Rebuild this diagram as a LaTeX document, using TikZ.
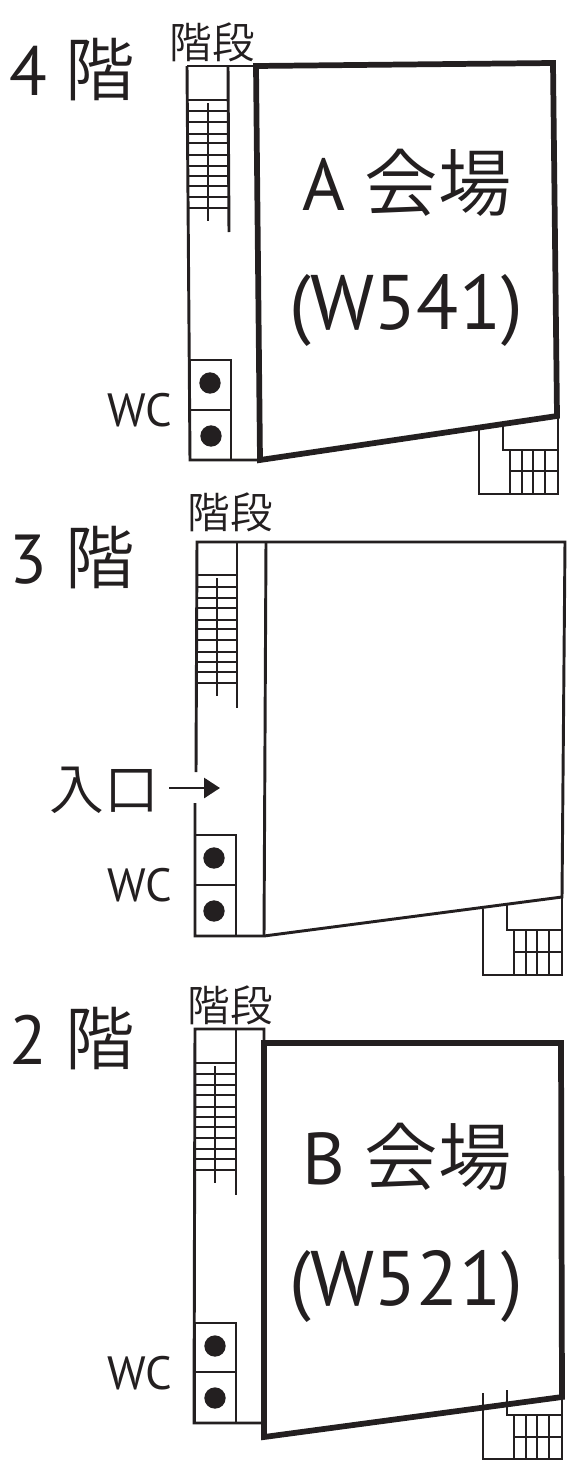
\documentclass[tikz,border=0pt]{standalone}
\usepackage{fontspec}
\usetikzlibrary{arrows.meta}
\setmainfont{PT Sans}
\newfontfamily\cjk{Noto Sans CJK JP DemiLight}
\definecolor{ink}{HTML}{231F20}
\tikzset{
  thinw/.style={draw=ink,line width=2.2pt,line cap=butt},
  thickw/.style={draw=ink,line width=4.3pt,line join=miter},
  dotc/.style={circle,fill=ink,draw=none,inner sep=0pt,minimum size=16pt},
  lab/.style={inner sep=0pt,text=ink,font=\fontsize{35}{35}\selectfont},
  floorlab/.style={lab,font=\fontsize{52}{52}\selectfont},
  stairlab/.style={lab,font=\fontsize{32}{32}\selectfont\cjk},
  hall/.style={lab,font=\fontsize{55}{55}\selectfont},
  room/.style={lab,font=\fontsize{58}{58}\selectfont},
}
\begin{document}
\begin{tikzpicture}[x=0.75pt,y=-0.75pt]
\useasboundingbox (0,0) rectangle (573,1467);

%% ---------- 4F ----------
\node[floorlab] (f4) at (72,70) {4 {\cjk 階}};
\node[stairlab] (s4) at (212,42) {階段};
\node[lab] (w4) at (140,410) {WC};
\node[hall] (a1) at (407,183) {A {\cjk 会場}};
\node[room] (a2) at (406,310) {(W541)};
\draw[thinw] (187,66) -- (256,66);
\draw[thinw] (187,66) -- (190,460) -- (260,460);
\draw[thinw] (228,66) -- (229,232);
\foreach \yy in {100,111,122,134,143,155,166,176,186,197,208}
  \draw[thinw] (187,\yy) -- (229,\yy);
\draw[thinw] (208,103) -- (208,221);
\draw[thinw] (190,360) rectangle (231,460);
\draw[thinw] (190,410) -- (231,410);
\node[dotc] (d41) at (210,383) {};
\node[dotc] (d42) at (211,436) {};
\draw[thinw] (479,430) -- (479,494) -- (558,494) -- (558,416);
\draw[thinw] (503,427) -- (503,450) -- (558,450);
\foreach \xx in {510,522,533,545} \draw[thinw] (\xx,450) -- (\xx,494);
\draw[thinw] (510,471) -- (558,471);
\draw[thickw] (256,66) -- (553,63) -- (557,416) -- (260,460) -- cycle;

%% ---------- 3F ----------
\node[floorlab] (f3) at (72,558) {3 {\cjk 階}};
\node[stairlab] (s3) at (230,512) {階段};
\node[lab] (w3) at (140,885) {WC};
\node[lab,font=\fontsize{41}{41}\selectfont\cjk] (ent) at (104,790) {入口};
\coordinate (arrS) at (169,788);
\coordinate (arrE) at (220,788);
\draw[thinw,-{Triangle[length=12pt,width=15pt]}] (arrS) -- (arrE);
\draw[thinw] (196,772) -- (197,542) -- (565,542) -- (562,897) -- (264,936) -- (195,936) -- (195,803);
\draw[thinw] (266,542) -- (264,936);
\draw[thinw] (237,542) -- (237,708);
\foreach \yy in {575,587,598,608,620,629,640,652,662,672,683}
  \draw[thinw] (197,\yy) -- (237,\yy);
\draw[thinw] (217,578) -- (217,696);
\draw[thinw] (195,835) rectangle (236,936);
\draw[thinw] (195,885) -- (236,885);
\node[dotc] (d31) at (214,858) {};
\node[dotc] (d32) at (214,911) {};
\draw[thinw] (483,909) -- (483,975) -- (562,975) -- (562,897);
\draw[thinw] (507,905) -- (507,930) -- (562,930);
\foreach \xx in {514,526,537,549} \draw[thinw] (\xx,930) -- (\xx,975);
\draw[thinw] (514,952) -- (562,952);

%% ---------- 2F ----------
\node[floorlab] (f2) at (72,1039) {2 {\cjk 階}};
\node[stairlab] (s2) at (230,1005) {階段};
\node[lab] (w2) at (140,1373) {WC};
\node[hall] (b1) at (407,1157) {B {\cjk 会場}};
\node[room] (b2) at (406,1286) {(W521)};
\draw[thinw] (264,1043) -- (264,1029) -- (195,1029) -- (194,1423) -- (264,1423);
\draw[thinw] (236,1029) -- (236,1195);
\foreach \yy in {1063,1074,1085,1095,1107,1117,1127,1138,1149,1159,1170}
  \draw[thinw] (195,\yy) -- (236,\yy);
\draw[thinw] (215,1066) -- (215,1183);
\draw[thinw] (195,1323) rectangle (236,1423);
\draw[thinw] (195,1372) -- (236,1372);
\node[dotc] (d21) at (215,1346) {};
\node[dotc] (d22) at (215,1398) {};
\draw[thinw] (483,1393) -- (483,1459) -- (562,1459) -- (562,1397);
\draw[thinw] (507,1390) -- (507,1415) -- (562,1415);
\foreach \xx in {514,526,537,549} \draw[thinw] (\xx,1415) -- (\xx,1459);
\draw[thinw] (514,1437) -- (562,1437);
\draw[thickw] (264,1043) -- (561,1043) -- (562,1397) -- (264,1437) -- cycle;
\end{tikzpicture}
\end{document}
